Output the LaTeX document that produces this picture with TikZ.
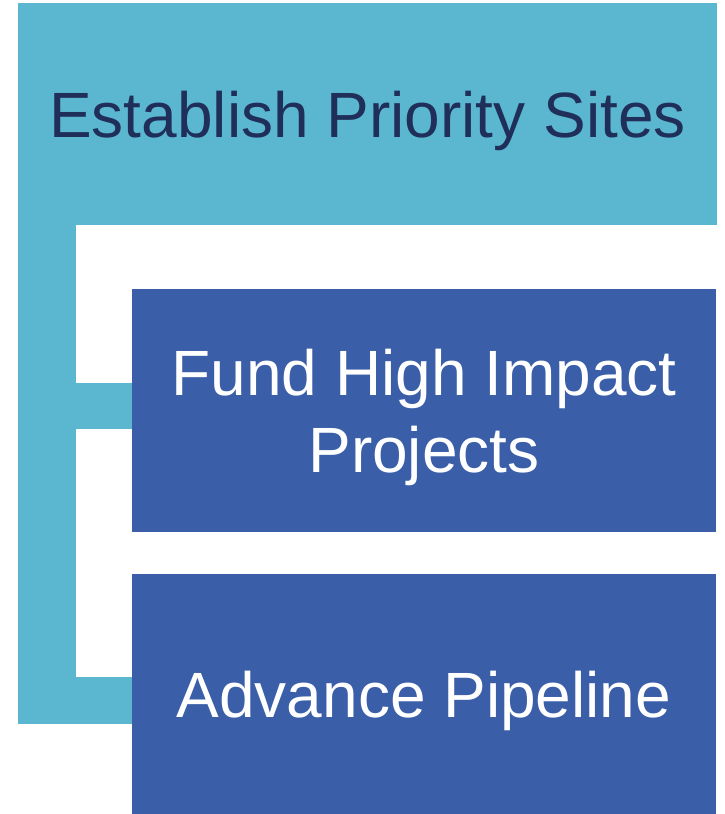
\documentclass[tikz,border=0pt]{standalone}
\usepackage{fontspec}
\setmainfont{Liberation Sans}
\definecolor{lightbar}{HTML}{5BB7D0}
\definecolor{darkbox}{HTML}{3A5EA8}
\definecolor{navytext}{HTML}{1F2F5A}
\begin{document}
\begin{tikzpicture}[x=1pt,y=-1pt,
  boxbase/.style={rectangle, inner sep=0pt, outer sep=0pt, align=center,
    text depth=0pt, font=\fontsize{64}{77}\selectfont},
  topbox/.style={boxbase, fill=lightbar, text=navytext},
  subbox/.style={boxbase, fill=darkbox, text=white},
  barfill/.style={fill=lightbar}]
\useasboundingbox (0,0) rectangle (725,814);
% top box
\node[topbox, minimum width=699pt, minimum height=222pt] (top) at (367.5,114) {Establish Priority Sites};
% sub boxes
\node[subbox, minimum width=584pt, minimum height=243pt] (fund) at (424,410.5) {Fund High Impact\\Projects};
\node[subbox, minimum width=584pt, minimum height=240pt] (adv) at (424,694) {Advance Pipeline};
% left vertical bar
\coordinate (barTL) at (18,225);
\coordinate (barBR) at (76,724);
\fill[barfill] (barTL) rectangle (barBR);
% connectors
\coordinate (c1a) at (76,383);
\coordinate (c2a) at (76,677);
\fill[barfill] (c1a) rectangle (fund.west |- 0,429);
\fill[barfill] (c2a) rectangle (adv.west |- 0,724);
\end{tikzpicture}
\end{document}
